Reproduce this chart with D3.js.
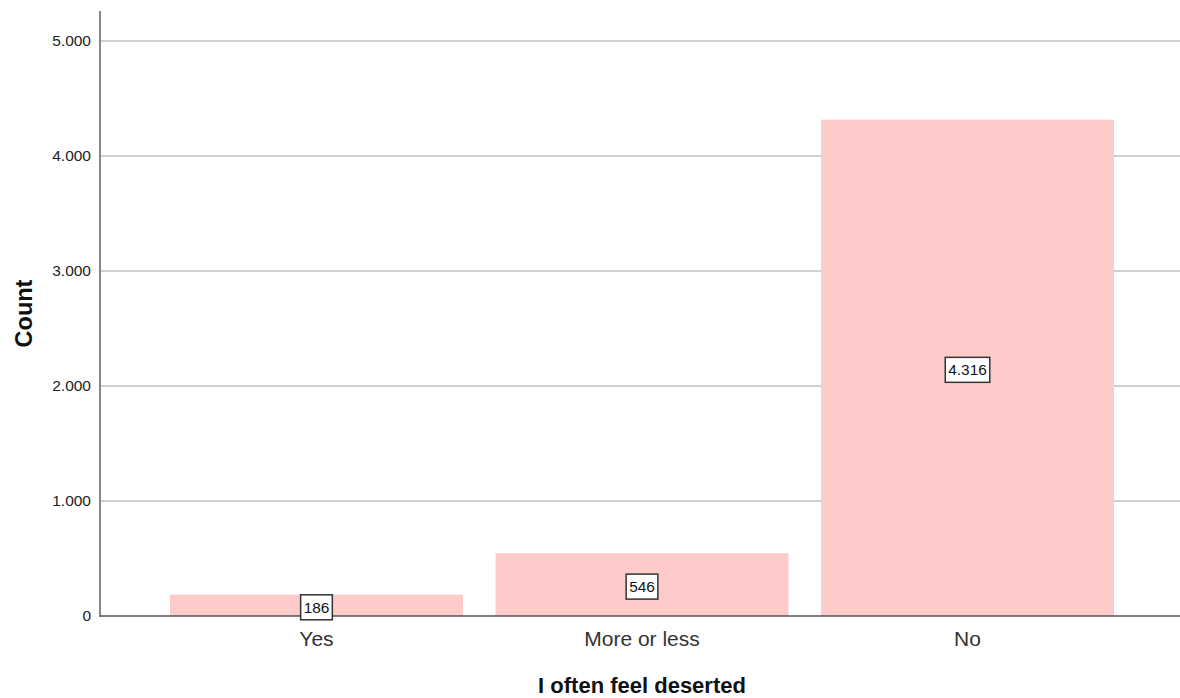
<!DOCTYPE html>
<html><head><meta charset="utf-8">
<script src="https://cdn.jsdelivr.net/npm/d3@7"></script>
<style>body{margin:0;background:#fff;}svg{display:block;font-family:Arial,"Liberation Sans",sans-serif;}</style>
</head><body>
<svg id="c" width="1180" height="698"></svg>
<script>
const categories = ["Yes", "More or less", "No"];
const counts = [186, 546, 4316];
const yTicks = [0, 1000, 2000, 3000, 4000, 5000];
const yTickLabels = ["0", "1.000", "2.000", "3.000", "4.000", "5.000"];
const xTitle = "I often feel deserted";
const yTitle = "Count";

(function () {
const svg = d3.select("#c");
const mLeft = 100, mRight = 1180, mTop = 11, mBottom = 616;
const x = d3.scaleBand().domain(categories).range([mLeft, 1184]).paddingInner(0.1).paddingOuter(0.215);
const y = d3.scaleLinear().domain([0, 5000]).range([mBottom, 41]);
const fmt = v => d3.format(",")(v).replace(/,/g, ".");
const FF = "Arial,'Liberation Sans',sans-serif";

// gridlines
svg.append("g").selectAll("line").data(yTicks.filter(d => d > 0)).join("line")
  .attr("x1", mLeft).attr("x2", mRight).attr("y1", d => y(d)).attr("y2", d => y(d))
  .attr("stroke", "#cfcfcf").attr("stroke-width", 2);

// bars
svg.append("g").selectAll("rect").data(counts).join("rect")
  .attr("x", (d, i) => x(categories[i])).attr("width", x.bandwidth())
  .attr("y", d => y(d)).attr("height", d => mBottom - y(d))
  .attr("fill", "#fdcbca");

// y axis
const yAxis = d3.axisLeft(y).tickValues(yTicks).tickFormat((d, i) => yTickLabels[i]).tickSize(0).tickPadding(9);
const ya = svg.append("g").attr("transform", `translate(${mLeft},0)`).call(yAxis);
ya.select(".domain").remove();
ya.selectAll("text").attr("font-size", 15.5).attr("fill", "#222").attr("font-family", FF);
svg.append("line").attr("x1", mLeft).attr("x2", mLeft).attr("y1", mTop).attr("y2", mBottom + 1)
  .attr("stroke", "#888").attr("stroke-width", 2);

// x baseline
svg.append("line").attr("x1", mLeft).attr("x2", mRight).attr("y1", mBottom).attr("y2", mBottom)
  .attr("stroke", "#555").attr("stroke-width", 1.5);

// x axis labels
const xAxis = d3.axisBottom(x).tickSize(0).tickPadding(15);
const xa = svg.append("g").attr("transform", `translate(0,${mBottom})`).call(xAxis);
xa.select(".domain").remove();
xa.selectAll("text").attr("font-size", 21).attr("fill", "#333").attr("font-family", FF);

// value labels
const lab = svg.append("g").selectAll("g").data(counts).join("g")
  .attr("transform", (d, i) => `translate(${x(categories[i]) + x.bandwidth() / 2},${(y(d) + mBottom) / 2 + 2})`);
lab.append("text").text(d => fmt(d)).attr("text-anchor", "middle").attr("dominant-baseline", "central")
  .attr("font-size", 15.4).attr("fill", "#111");
lab.each(function () {
  const g = d3.select(this);
  const bb = g.select("text").node().getBBox();
  g.insert("rect", "text").attr("x", bb.x - 3).attr("y", -12.5).attr("width", bb.width + 6).attr("height", 25)
    .attr("fill", "#fff").attr("stroke", "#333").attr("stroke-width", 1.5);
});

// titles
svg.append("text").attr("x", 642).attr("y", 693).attr("text-anchor", "middle")
  .attr("font-size", 22).attr("font-weight", "bold").attr("fill", "#111").text(xTitle);
svg.append("text").attr("transform", "translate(32,313.5) rotate(-90)").attr("text-anchor", "middle")
  .attr("font-size", 23.5).attr("font-weight", "bold").attr("fill", "#111").text(yTitle);
})();
</script>
</body></html>
